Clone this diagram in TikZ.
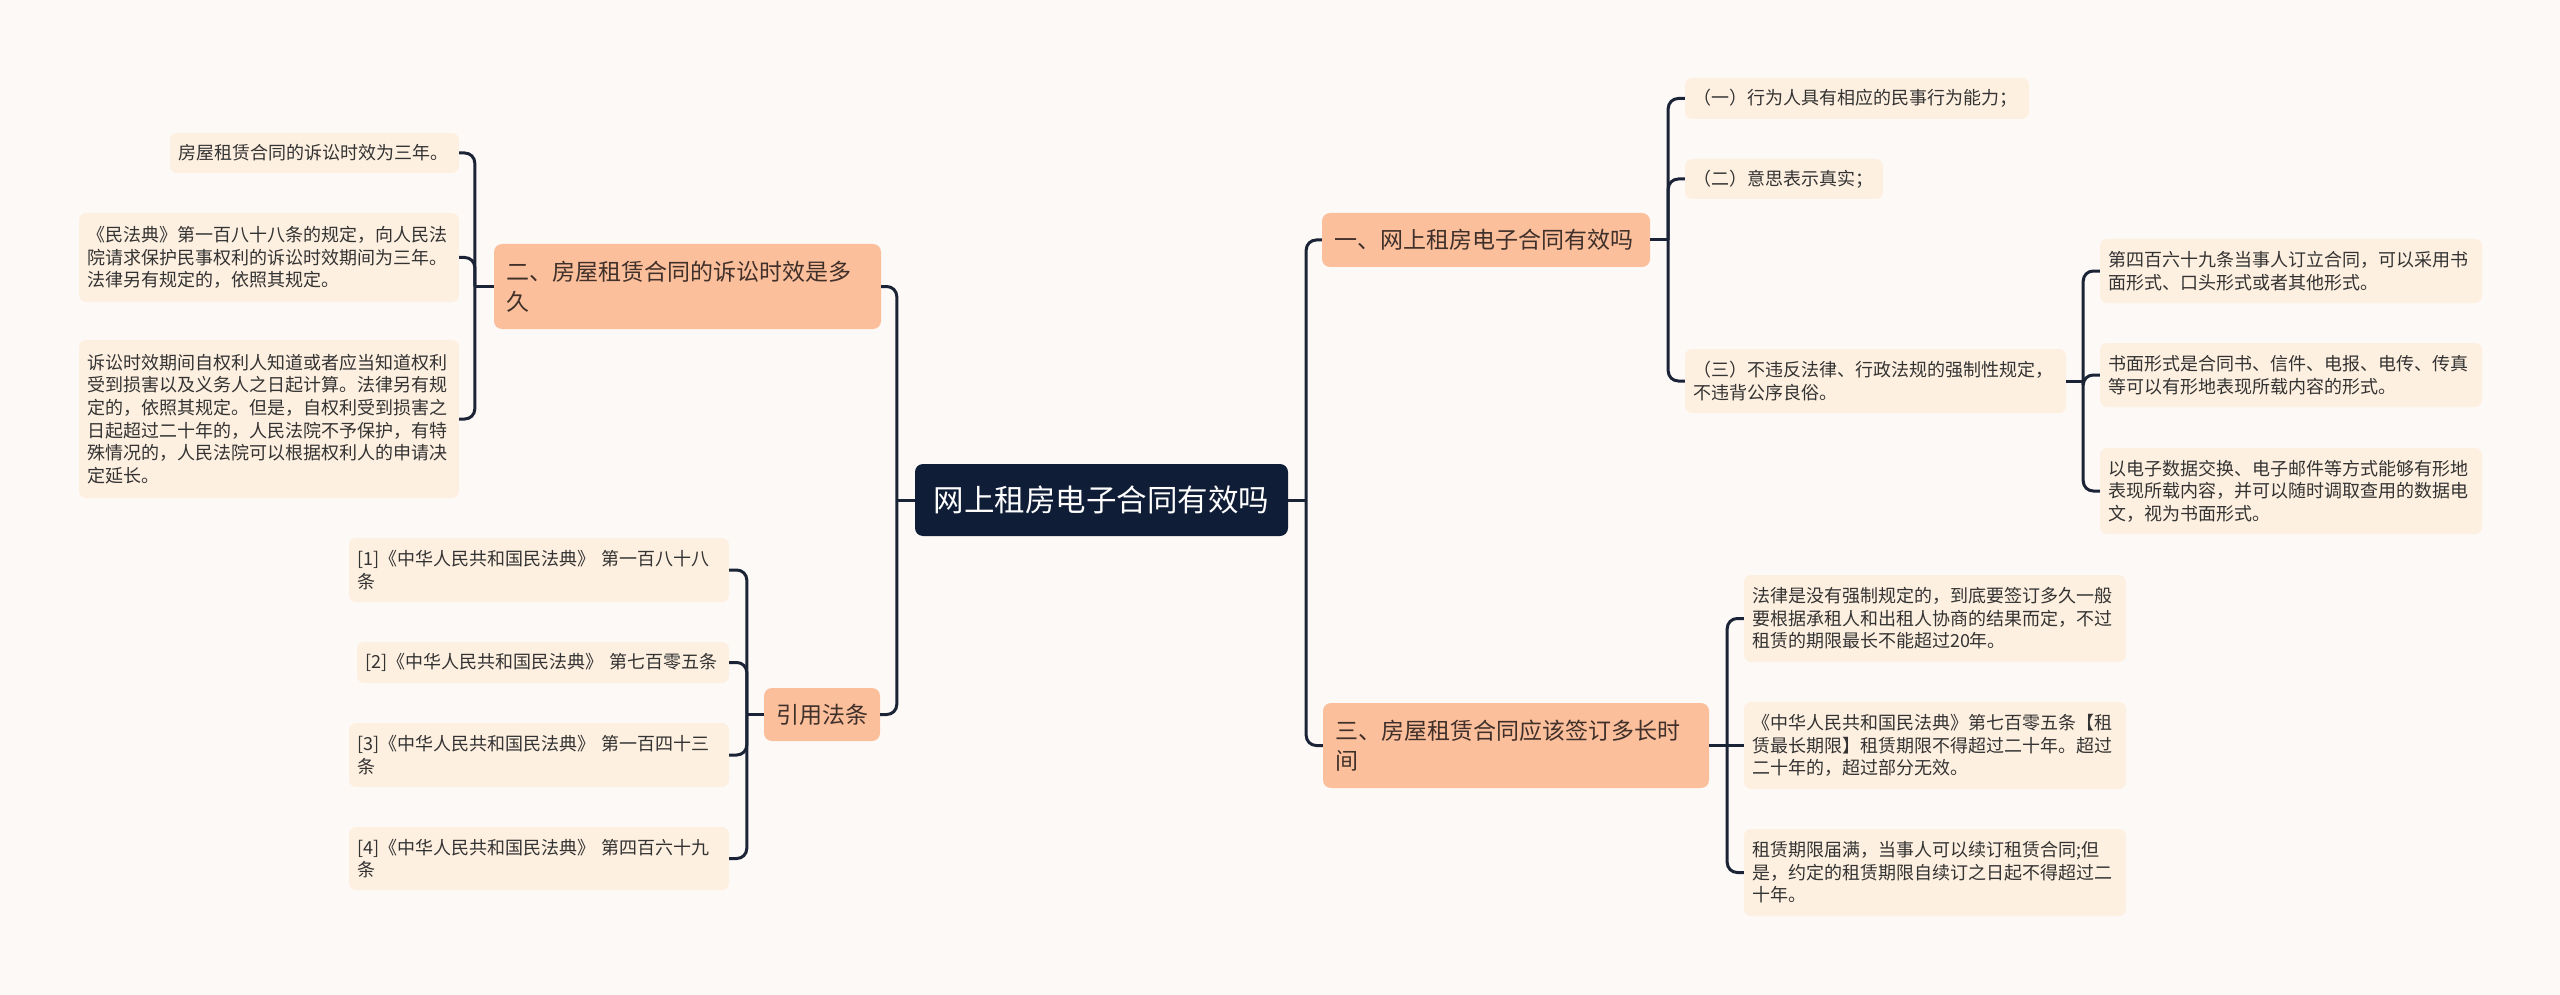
\documentclass[tikz,border=0pt]{standalone}
\usepackage{fontspec}
\setmainfont{Noto Sans CJK SC}
\definecolor{paper}{HTML}{FDF9F6}
\definecolor{leaffill}{HTML}{FEF0E0}
\definecolor{topicfill}{HTML}{FCBF9C}
\definecolor{rootfill}{HTML}{0F1D36}
\definecolor{wire}{HTML}{1B2437}
\definecolor{ink}{HTML}{333333}
\definecolor{topicink}{HTML}{40302A}
\begin{document}
\begin{tikzpicture}[x=1pt,y=-1pt,
    leaf/.style={fill=leaffill, rounded corners=7pt, inner xsep=8pt, inner ysep=4pt,
      align=left, text=ink, font=\fontsize{18pt}{22.6pt}\selectfont},
    topic/.style={fill=topicfill, rounded corners=8pt, inner xsep=12pt, inner ysep=4pt,
      align=left, text=topicink, font=\fontsize{23pt}{30pt}\selectfont},
    root/.style={fill=rootfill, rounded corners=8pt, inner xsep=16pt, inner ysep=4pt,
      align=center, text=white, font=\fontsize{30.5pt}{36pt}\selectfont},
    link/.style={draw=wire, line width=3pt, rounded corners=10pt}]
  \fill[paper] (0,0) rectangle (2560,995);

  % centre
  \node[root, text width=341pt, minimum height=72pt] (main) at (1101.5,500) {网上租房电子合同有效吗};

  % left side
  \node[topic, text width=363pt, minimum height=85pt] (t2) at (687.5,286.5) {二、房屋租赁合同的诉讼时效是多\\久};
  \node[leaf, text width=273pt, minimum height=40pt] (a1) at (314.5,153) {房屋租赁合同的诉讼时效为三年。};
  \node[leaf, text width=364pt, minimum height=89pt] (a2) at (269,257.5) {《民法典》第一百八十八条的规定，向人民法\\院请求保护民事权利的诉讼时效期间为三年。\\法律另有规定的，依照其规定。};
  \node[leaf, text width=364pt, minimum height=158pt] (a3) at (269,419) {诉讼时效期间自权利人知道或者应当知道权利\\受到损害以及义务人之日起计算。法律另有规\\定的，依照其规定。但是，自权利受到损害之\\日起超过二十年的，人民法院不予保护，有特\\殊情况的，人民法院可以根据权利人的申请决\\定延长。};

  \node[topic, text width=92pt, minimum height=53pt] (t4) at (822,714.5) {引用法条};
  \node[leaf, text width=364pt, minimum height=64pt] (b1) at (539,570) {[1]《中华人民共和国民法典》 第一百八十八\\条};
  \node[leaf, text width=356pt, minimum height=41pt] (b2) at (543,662.5) {[2]《中华人民共和国民法典》 第七百零五条};
  \node[leaf, text width=364pt, minimum height=64pt] (b3) at (539,755) {[3]《中华人民共和国民法典》 第一百四十三\\条};
  \node[leaf, text width=364pt, minimum height=63pt] (b4) at (539,858.5) {[4]《中华人民共和国民法典》 第四百六十九\\条};

  % right side
  \node[topic, text width=304pt, minimum height=54pt] (t1) at (1486,240) {一、网上租房电子合同有效吗};
  \node[leaf, text width=328pt, minimum height=41pt] (c1) at (1857,98.5) {（一）行为人具有相应的民事行为能力；};
  \node[leaf, text width=182pt, minimum height=40pt] (c2) at (1784,179) {（二）意思表示真实；};
  \node[leaf, text width=365pt, minimum height=64pt] (c3) at (1875.5,381) {（三）不违反法律、行政法规的强制性规定，\\不违背公序良俗。};
  \node[leaf, text width=366pt, minimum height=64pt] (d1) at (2291,271) {第四百六十九条当事人订立合同，可以采用书\\面形式、口头形式或者其他形式。};
  \node[leaf, text width=366pt, minimum height=64pt] (d2) at (2291,375) {书面形式是合同书、信件、电报、电传、传真\\等可以有形地表现所载内容的形式。};
  \node[leaf, text width=366pt, minimum height=86pt] (d3) at (2291,491) {以电子数据交换、电子邮件等方式能够有形地\\表现所载内容，并可以随时调取查用的数据电\\文，视为书面形式。};

  \node[topic, text width=362pt, minimum height=85pt] (t3) at (1516,745.5) {三、房屋租赁合同应该签订多长时\\间};
  \node[leaf, text width=366pt, minimum height=87pt] (e1) at (1935,618.5) {法律是没有强制规定的，到底要签订多久一般\\要根据承租人和出租人协商的结果而定，不过\\租赁的期限最长不能超过20年。};
  \node[leaf, text width=366pt, minimum height=87pt] (e2) at (1935,745.5) {《中华人民共和国民法典》第七百零五条【租\\赁最长期限】租赁期限不得超过二十年。超过\\二十年的，超过部分无效。};
  \node[leaf, text width=366pt, minimum height=87pt] (e3) at (1935,872.5) {租赁期限届满，当事人可以续订租赁合同;但\\是，约定的租赁期限自续订之日起不得超过二\\十年。};

  % connectors
  \draw[link] (main.west) -- ++(-18,0) coordinate (jl);
  \draw[link] (main.east) -- ++(18,0) coordinate (jr);
  \draw[link] (t2.west) -- ++(-19,0) coordinate (ja);
  \draw[link] (t4.west) -- ++(-17,0) coordinate (jb);
  \draw[link] (t1.east) -- ++(18,0) coordinate (jc);
  \draw[link] (c3.east) -- ++(17,0) coordinate (jd);
  \draw[link] (t3.east) -- ++(18,0) coordinate (je);
  \foreach \n in {t2,t4} \draw[link] (jl) |- (\n.east);
  \foreach \n in {t1,t3} \draw[link] (jr) |- (\n.west);
  \foreach \n in {a1,a2,a3} \draw[link] (ja) |- (\n.east);
  \foreach \n in {b1,b2,b3,b4} \draw[link] (jb) |- (\n.east);
  \foreach \n in {c1,c2,c3} \draw[link] (jc) |- (\n.west);
  \foreach \n in {d1,d2,d3} \draw[link] (jd) |- (\n.west);
  \foreach \n in {e1,e3} \draw[link] (je) |- (\n.west);
  \draw[link] (je) -- (e2.west);
\end{tikzpicture}
\end{document}
